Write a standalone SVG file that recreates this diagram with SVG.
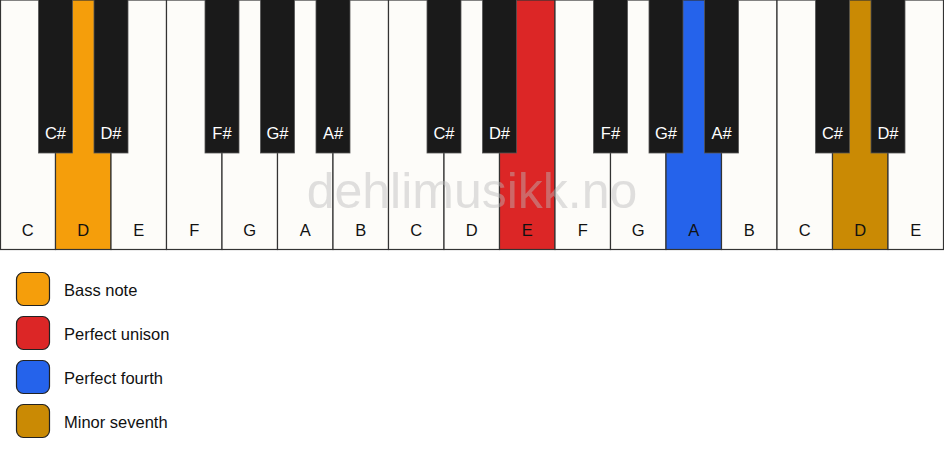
<svg xmlns="http://www.w3.org/2000/svg" width="944" height="461" viewBox="0 0 944 461">
<style>
.w{fill:#fdfcf9;stroke:#333;stroke-width:1.2}
.b{fill:#1a1a1a;stroke:#555;stroke-width:0.8}
.wl{font-family:"Liberation Sans",Arial,sans-serif;font-size:16.5px;fill:#111;text-anchor:middle}
.bl{font-family:"Liberation Sans",Arial,sans-serif;font-size:16.5px;fill:#fff;text-anchor:middle}
.lg{font-family:"Liberation Sans",Arial,sans-serif;font-size:16.5px;fill:#111}
.sw{stroke:#222;stroke-width:1.2}
.wm{font-family:"Liberation Sans",Arial,sans-serif;font-size:50px;fill:#bbb;fill-opacity:0.45;text-anchor:middle}
</style>
<rect x="0" y="0" width="944" height="461" fill="#fff"/>
<g id="white-keys">
<g id="w0"><rect class="w" x="0.5" y="0" width="55" height="249.5"/><text class="wl" x="27.75" y="236">C</text></g>
<g id="w1"><rect class="w" x="55.5" y="0" width="55.5" height="249.5" style="fill:#f59e0b"/><text class="wl" x="83.25" y="236">D</text></g>
<g id="w2"><rect class="w" x="111" y="0" width="55.5" height="249.5"/><text class="wl" x="138.75" y="236">E</text></g>
<g id="w3"><rect class="w" x="166.5" y="0" width="55.5" height="249.5"/><text class="wl" x="194.25" y="236">F</text></g>
<g id="w4"><rect class="w" x="222" y="0" width="55.5" height="249.5"/><text class="wl" x="249.75" y="236">G</text></g>
<g id="w5"><rect class="w" x="277.5" y="0" width="55.5" height="249.5"/><text class="wl" x="305.25" y="236">A</text></g>
<g id="w6"><rect class="w" x="333" y="0" width="55.5" height="249.5"/><text class="wl" x="360.75" y="236">B</text></g>
<g id="w7"><rect class="w" x="388.5" y="0" width="55.5" height="249.5"/><text class="wl" x="416.25" y="236">C</text></g>
<g id="w8"><rect class="w" x="444" y="0" width="55.5" height="249.5"/><text class="wl" x="471.75" y="236">D</text></g>
<g id="w9"><rect class="w" x="499.5" y="0" width="55.5" height="249.5" style="fill:#dc2626"/><text class="wl" x="527.25" y="236">E</text></g>
<g id="w10"><rect class="w" x="555" y="0" width="55.5" height="249.5"/><text class="wl" x="582.75" y="236">F</text></g>
<g id="w11"><rect class="w" x="610.5" y="0" width="55.5" height="249.5"/><text class="wl" x="638.25" y="236">G</text></g>
<g id="w12"><rect class="w" x="666" y="0" width="55.5" height="249.5" style="fill:#2563eb"/><text class="wl" x="693.75" y="236">A</text></g>
<g id="w13"><rect class="w" x="721.5" y="0" width="55.5" height="249.5"/><text class="wl" x="749.25" y="236">B</text></g>
<g id="w14"><rect class="w" x="777" y="0" width="55.5" height="249.5"/><text class="wl" x="804.75" y="236">C</text></g>
<g id="w15"><rect class="w" x="832.5" y="0" width="55.5" height="249.5" style="fill:#ca8a04"/><text class="wl" x="860.25" y="236">D</text></g>
<g id="w16"><rect class="w" x="888" y="0" width="55.5" height="249.5"/><text class="wl" x="915.75" y="236">E</text></g>
</g>
<g id="black-keys">
<g id="b1"><rect class="b" x="38.5" y="-1" width="34" height="154"/><text class="bl" x="55.5" y="139">C#</text></g>
<g id="b2"><rect class="b" x="94" y="-1" width="34" height="154"/><text class="bl" x="111" y="139">D#</text></g>
<g id="b4"><rect class="b" x="205" y="-1" width="34" height="154"/><text class="bl" x="222" y="139">F#</text></g>
<g id="b5"><rect class="b" x="260.5" y="-1" width="34" height="154"/><text class="bl" x="277.5" y="139">G#</text></g>
<g id="b6"><rect class="b" x="316" y="-1" width="34" height="154"/><text class="bl" x="333" y="139">A#</text></g>
<g id="b8"><rect class="b" x="427" y="-1" width="34" height="154"/><text class="bl" x="444" y="139">C#</text></g>
<g id="b9"><rect class="b" x="482.5" y="-1" width="34" height="154"/><text class="bl" x="499.5" y="139">D#</text></g>
<g id="b11"><rect class="b" x="593.5" y="-1" width="34" height="154"/><text class="bl" x="610.5" y="139">F#</text></g>
<g id="b12"><rect class="b" x="649" y="-1" width="34" height="154"/><text class="bl" x="666" y="139">G#</text></g>
<g id="b13"><rect class="b" x="704.5" y="-1" width="34" height="154"/><text class="bl" x="721.5" y="139">A#</text></g>
<g id="b15"><rect class="b" x="815.5" y="-1" width="34" height="154"/><text class="bl" x="832.5" y="139">C#</text></g>
<g id="b16"><rect class="b" x="871" y="-1" width="34" height="154"/><text class="bl" x="888" y="139">D#</text></g>
</g>
<text class="wm" x="472" y="208">dehlimusikk.no</text>
<g id="legend">
<g id="lg1"><rect class="sw" x="16.5" y="272.5" width="33" height="33" rx="7" fill="#f59e0b"/><text class="lg" x="64" y="296">Bass note</text></g>
<g id="lg2"><rect class="sw" x="16.5" y="316.5" width="33" height="33" rx="7" fill="#dc2626"/><text class="lg" x="64" y="340">Perfect unison</text></g>
<g id="lg3"><rect class="sw" x="16.5" y="360.5" width="33" height="33" rx="7" fill="#2563eb"/><text class="lg" x="64" y="384">Perfect fourth</text></g>
<g id="lg4"><rect class="sw" x="16.5" y="404.5" width="33" height="33" rx="7" fill="#ca8a04"/><text class="lg" x="64" y="428">Minor seventh</text></g>
</g>
</svg>
